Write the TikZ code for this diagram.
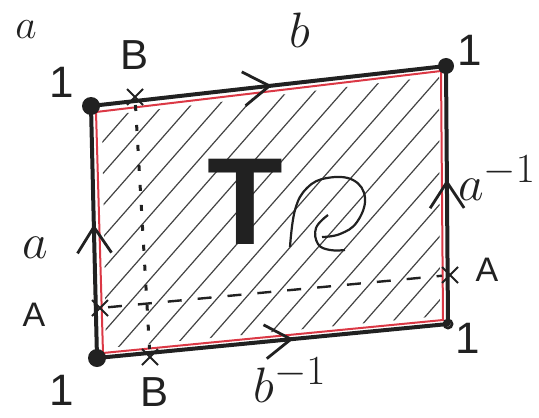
\documentclass[tikz,border=0pt]{standalone}
\usepackage{fontspec}
\setsansfont{Liberation Sans}
\usetikzlibrary{shapes.misc, arrows.meta, decorations.markings}

\begin{document}
\begin{tikzpicture}[x=0.5pt, y=-0.5pt]

   %my colors
\definecolor{ink}{rgb}{0.13, 0.13, 0.13}
\definecolor{redpen}{rgb}{0.86, 0.22, 0.27}

\tikzset{
    edge/.style={ink, line width=2pt, line cap=round},
    chevron/.style={postaction={decorate, decoration={markings,
        mark=at position #1 with {\arrow{Straight Barb[length=13pt, width=17pt, line width=1.4pt]}}}}},
    hatch/.style={ink!85, line width=0.6pt},
    cross/.style={cross out, draw=ink, line width=1pt, minimum size=7pt, inner sep=0pt},
    lbl/.style={ink, font=\fontsize{#1}{#1}\selectfont\sffamily},
    mlbl/.style={ink, font=\fontsize{#1}{#1}\selectfont}
}

    \useasboundingbox (0,0) rectangle (539,417);

    % corners of the square (all glued to one point 1)
    \coordinate (tl) at (91,106);
    \coordinate (tr) at (446,66);
    \coordinate (br) at (448,324);
    \coordinate (bl) at (97,358);

    % hatching of the inside
    \begin{scope}
        \clip (102,116) -- (439,76) -- (440,316) -- (106,348) -- cycle;
        \foreach \c in {-180,-152,...,410}
            \draw[hatch] (\c,400) -- ++(360,-410);
    \end{scope}

    % red copy of the boundary
    \draw[redpen, line width=1pt] (96,112) -- (441,71) -- (443,320) -- (103,353) -- cycle;

    % the four sides with their arrows
    \draw[edge, chevron=0.51] (tl) -- (tr); % b
    \draw[edge, chevron=0.53] (bl) -- (tl); % a
    \draw[edge, chevron=0.56] (br) -- (tr); % a^-1
    \draw[edge, chevron=0.56] (bl) -- (br); % b^-1

    % vertices
    \fill[ink] (tl) circle (9);
    \fill[ink] (tr) circle (8);
    \fill[ink] (bl) circle (9);
    \draw[ink, line width=1.4pt] (br) circle (4);

    % the points A and B on the sides
    \node[cross] (Btop) at (135,97) {};
    \node[cross] (Bbot) at (150,357) {};
    \node[cross] (Aleft) at (100,308) {};
    \node[cross] (Aright) at (450,275) {};

    % the two closed curves
    \draw[ink, line width=1.5pt, dash pattern=on 3pt off 7pt] (Btop) -- (Bbot);
    \draw[ink, line width=1.2pt, dash pattern=on 7pt off 8pt] (Aleft) -- (Aright);

    % labels
    \node[lbl=22] (one_tl) at (62,82) {1};
    \node[lbl=22] (one_tr) at (470,50) {1};
    \node[lbl=22] (one_bl) at (62,390) {1};
    \node[lbl=22] (one_br) at (468,338) {1};
    \node[lbl=21] (B_top) at (135,55) {B};
    \node[lbl=21] (B_bot) at (155,392) {B};
    \node[lbl=17] (A_left) at (34,315) {A};
    \node[lbl=17] (A_right) at (487,270) {A};
    \node[mlbl=29] (lab_b) at (300,30) {$b$};
    \node[mlbl=38] (lab_a) at (35,248) {$a$};
    \node[mlbl=30] (lab_ainv) at (497,178) {$a^{-1}$};
    \node[mlbl=32] (lab_binv) at (290,380) {$b^{-1}$};
    \node[mlbl=22] (lab_corner) at (26,30) {$a$};

    % the big T and the swirl
    \node[ink, font=\fontsize{62}{62}\selectfont\sffamily\bfseries] (T) at (245,202) {T};
    \draw[ink, line width=1.1pt] plot[smooth, tension=0.7] coordinates
        {(290,247) (295,210) (307,188) (327,178) (353,180) (365,198) (357,222) (340,234) (322,237)};
    \draw[ink, line width=1.1pt] plot[smooth, tension=0.7] coordinates
        {(328,215) (316,228) (318,244) (330,250) (345,250)};

\end{tikzpicture}
\end{document}
